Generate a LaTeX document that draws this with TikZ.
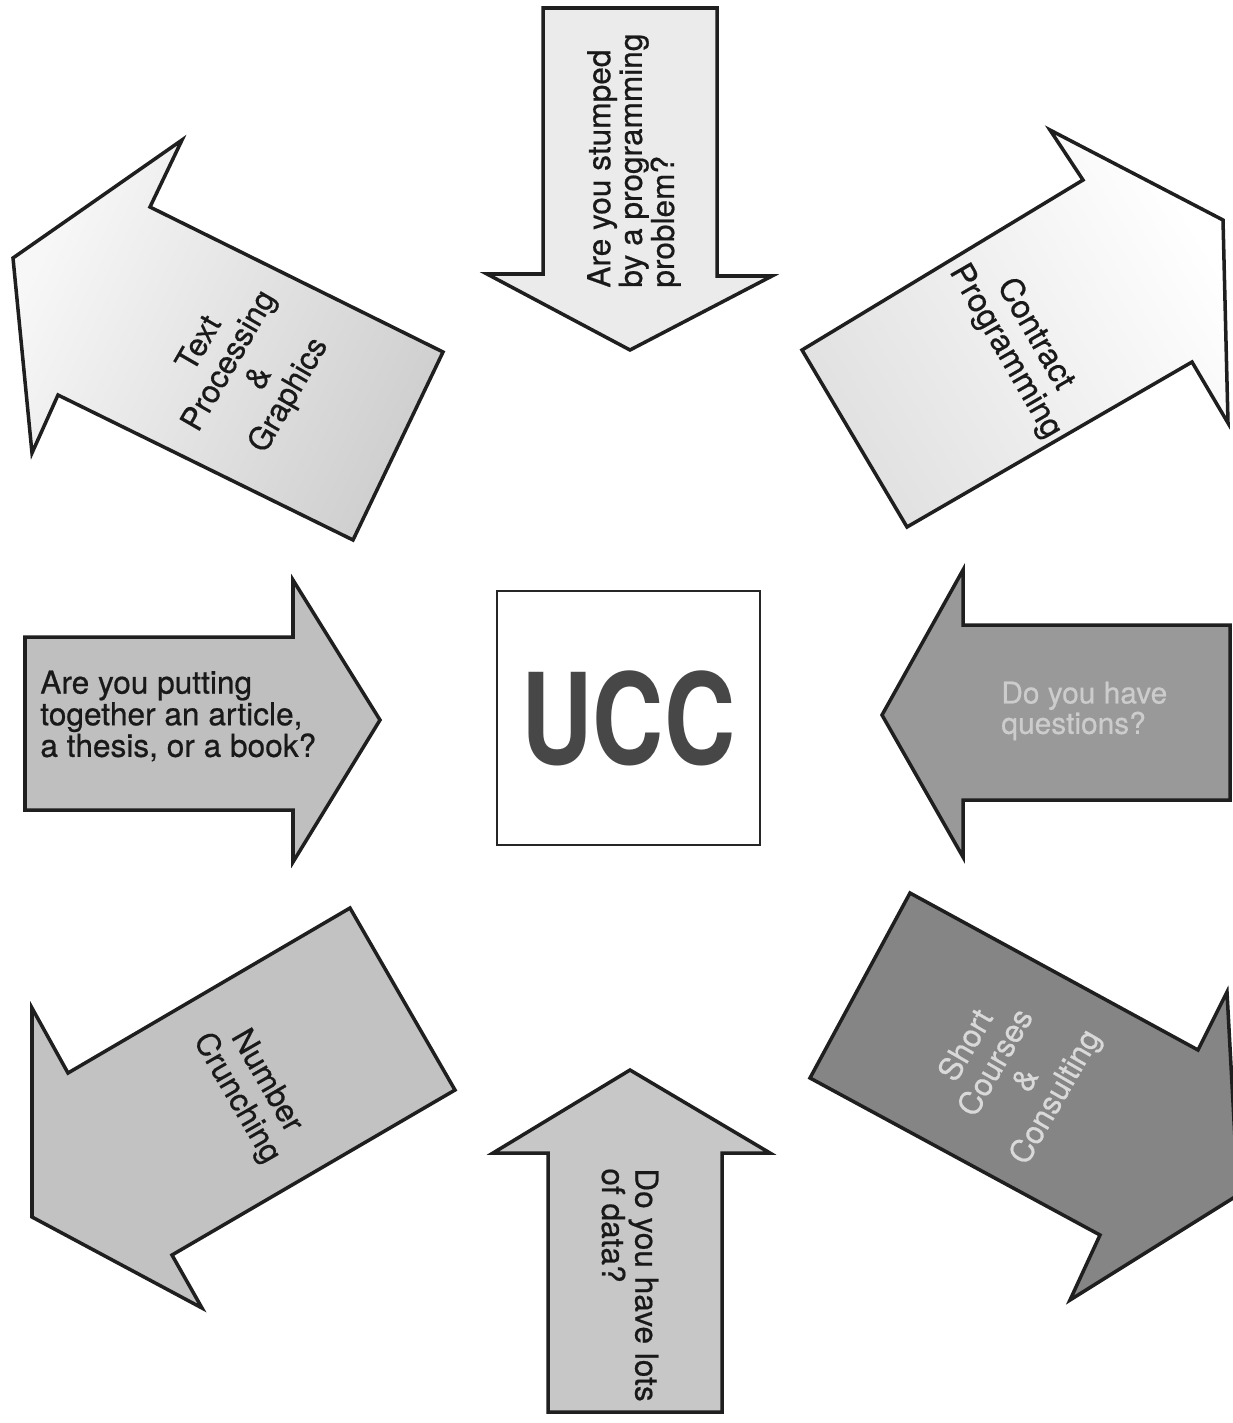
\documentclass[tikz,border=0pt]{standalone}
\usepackage{fontspec}
\setmainfont{TeX Gyre Heros}
\newfontfamily\medfont{TeX Gyre Heros}[FakeBold=0.6]
\begin{document}
\begin{tikzpicture}[x=0.02cm,y=-0.02cm,
  arrowshape/.style={draw=black!88, line width=2pt, line join=miter},
  arrowtext/.style={inner sep=0pt, font=\medfont\fontsize{18}{18}\selectfont, text=black!90},
  slanttext/.style={arrowtext, align=center, font=\medfont\fontsize{18}{19.5}\selectfont},
]
\useasboundingbox (0,0) rectangle (1233,1423);
\clip (0,0) rectangle (1233,1423);

% top: pointing down
\draw[arrowshape, fill=black!8]
  (543,8) -- (717,8) -- (717,276) -- (772,276) -- (630,350) -- (487,274) -- (543,274) -- cycle;
% upper left: pointing up-left
\draw[arrowshape, top color=black!3, bottom color=black!19, shading angle=64]
  (13,258) -- (182,140) -- (150,207) -- (443,352) -- (353,540) -- (58,395) -- (32,453) -- cycle;
% upper right: pointing up-right
\draw[arrowshape, top color=white, bottom color=black!12, shading angle=-59]
  (802,350) -- (1083,180) -- (1050,130) -- (1223,220) -- (1228,423) -- (1192,362) -- (907,527) -- cycle;
% middle left: pointing right
\draw[arrowshape, fill=black!25]
  (25,637) -- (293,637) -- (293,580) -- (380,720) -- (293,862) -- (293,810) -- (25,810) -- cycle;
% middle right: pointing left
\draw[arrowshape, fill=black!40]
  (1230,625) -- (963,625) -- (963,570) -- (882,715) -- (963,857) -- (963,800) -- (1230,800) -- cycle;
% lower left: pointing down-left
\draw[arrowshape, fill=black!24]
  (350,908) -- (455,1090) -- (172,1255) -- (202,1308) -- (32,1217) -- (32,1008) -- (68,1073) -- cycle;
% lower right: pointing down-right
\draw[arrowshape, fill=black!48]
  (910,893) -- (1198,1050) -- (1227,992) -- (1238,1195) -- (1070,1300) -- (1100,1235) -- (810,1078) -- cycle;
% bottom: pointing up
\draw[arrowshape, fill=black!22]
  (630,1070) -- (770,1153) -- (722,1153) -- (722,1412) -- (548,1412) -- (548,1153) -- (493,1153) -- cycle;

% centre box
\node[draw=black!85, line width=1.4pt, fill=white, minimum width=5.26cm, minimum height=5.08cm,
      inner sep=0pt, text=black!72, font=\fontsize{72}{72}\bfseries] (ucc) at (628.5,718)
  {\scalebox{0.78}[1]{UCC}};

% labels
\node[arrowtext, rotate=90, anchor=west, align=left, font=\medfont\fontsize{18}{17}\selectfont] (stumped)
  at (634,288) {Are you stumped\\by a programming\\problem?};
\node[slanttext, rotate=60] (textproc)
  at (245,370) {Text\\Processing\\\&\\Graphics};
\node[slanttext, rotate=-60, font=\medfont\fontsize{18.5}{19.5}\selectfont] (contract)
  at (1020,343) {Contract\\Programming};
\node[arrowtext, anchor=west, align=left] (putting)
  at (40,716) {Are you putting\\together an article,\\a thesis, or a book?};
\node[arrowtext, anchor=west, align=left, font=\medfont\fontsize{17}{14}\selectfont, text=black!20] (questions)
  at (1001,711) {Do you have\\questions?};
\node[slanttext, rotate=-60] (number)
  at (251,1090) {Number\\Crunching};
\node[slanttext, rotate=60, text=black!15] (short)
  at (1012,1072) {Short\\Courses\\\&\\Consulting};
\node[arrowtext, rotate=-90, anchor=west, align=left, font=\medfont\fontsize{18}{19}\selectfont] (lots)
  at (630,1168) {Do you have lots\\of data?};
\end{tikzpicture}
\end{document}
